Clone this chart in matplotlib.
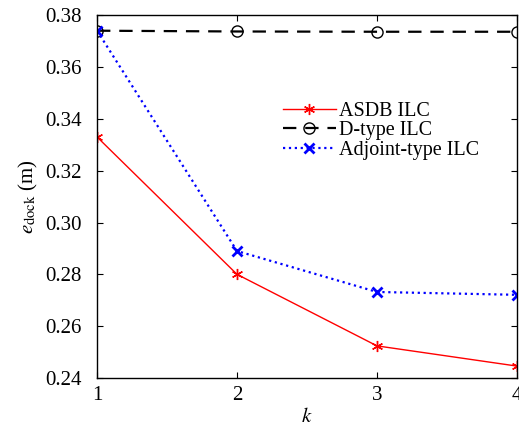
import matplotlib
matplotlib.use("Agg")
import matplotlib.pyplot as plt

plt.rcParams['font.family'] = ['Liberation Serif', 'DejaVu Serif']
plt.rcParams['mathtext.fontset'] = 'stix'

k = [1, 2, 3, 4]
asdb = [0.3330, 0.2800, 0.2524, 0.2446]
dtype = [0.3740, 0.3737, 0.3736, 0.3736]
adjoint = [0.3740, 0.2890, 0.2732, 0.2721]
yticks = [0.24, 0.26, 0.28, 0.30, 0.32, 0.34, 0.36, 0.38]

fig = plt.figure(figsize=(5.19, 4.33), dpi=100)
ax = fig.add_axes([0.187, 0.127, 0.809, 0.838])

ax.plot(k, asdb, '-', color='red', lw=1.0, marker=(6, 2, 0), ms=8, mew=1.0, label='ASDB ILC')
ax.plot(k, dtype, '--', color='black', lw=1.6, dashes=(6, 4), marker='o', ms=8,
        mfc='none', mec='black', mew=1.0, label='D-type ILC')
ax.plot(k, adjoint, ':', color='blue', lw=1.6, marker='x', ms=7, mew=2.0, label='Adjoint-type ILC')

ax.set_xlim(1, 4)
ax.set_ylim(0.24, 0.38)
ax.set_xticks(k)
ax.set_yticks(yticks)
ax.set_yticklabels(['%.2f' % v for v in yticks])
ax.tick_params(direction='in', labelsize=15, length=4, top=True, right=True)
ax.tick_params(axis='x', pad=6)
ax.tick_params(axis='y', pad=11)
for s in ax.spines.values():
    s.set_linewidth(1.0)

ax.set_xlabel('$k$', fontsize=15, labelpad=2)
ax.set_ylabel(r'$e_{\rm dock}$ (m)', fontsize=15, labelpad=4)

ax.legend(loc='upper left', bbox_to_anchor=(0.41, 0.80), frameon=False, fontsize=14.5,
          handlelength=2.6, handletextpad=0.15, labelspacing=0.02, borderpad=0.2)

fig.savefig('out.png', dpi=100)
